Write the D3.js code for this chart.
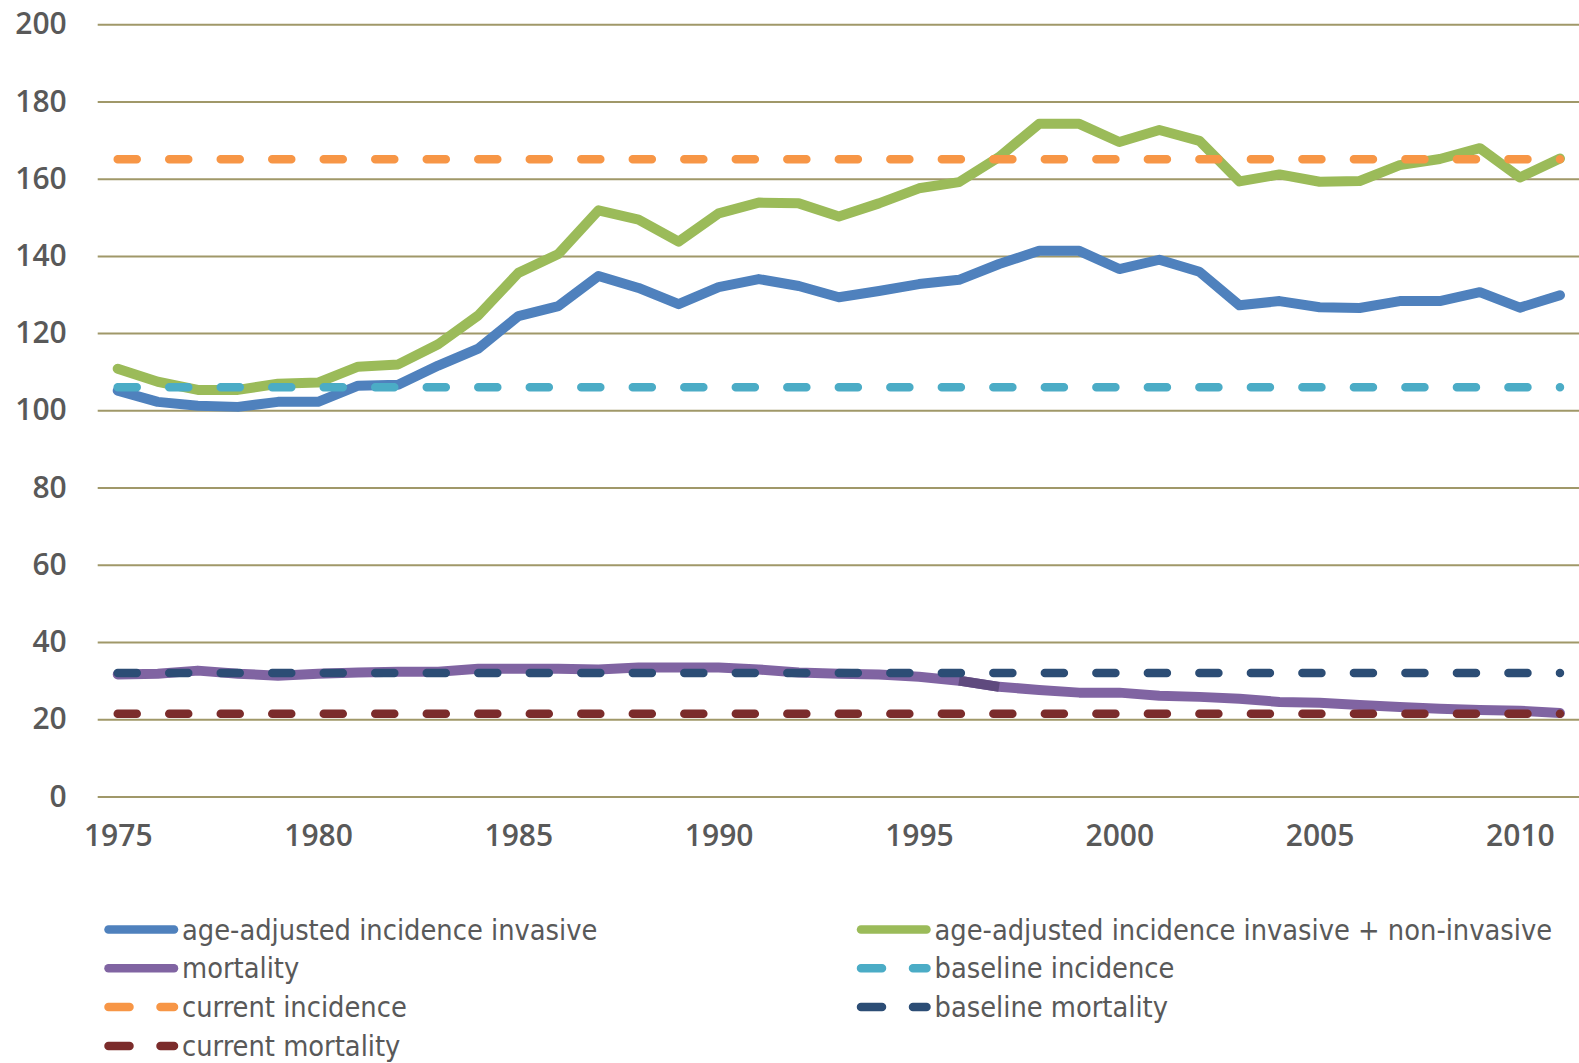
<!DOCTYPE html>
<html>
<head>
<meta charset="utf-8">
<script src="https://cdn.jsdelivr.net/npm/d3@7"></script>
<style>
  html, body { margin: 0; padding: 0; background: #fff; }
  svg { display: block; }
</style>
</head>
<body>
<svg id="chart" width="1579" height="1063"></svg>
<script>
// Breast cancer incidence and mortality, per 100,000, 1975-2011
const years = d3.range(1975, 2012);

const incidenceInvasive = [
  105.1, 102.2, 101.2, 100.9, 102.2, 102.2, 106.4, 106.6, 111.6, 116.0,
  124.4, 127.0, 134.8, 131.7, 127.5, 131.9, 134.0, 132.2, 129.3, 130.9,
  132.7, 133.8, 137.9, 141.3, 141.3, 136.6, 139.0, 135.9, 127.2, 128.3,
  126.7, 126.5, 128.3, 128.3, 130.6, 126.6, 129.8
];

const incidenceAll = [
  110.8, 107.4, 105.3, 105.3, 106.9, 107.2, 111.3, 111.9, 117.1, 124.6,
  135.6, 140.5, 151.8, 149.4, 143.7, 151.0, 153.8, 153.6, 150.2, 153.6,
  157.5, 159.1, 165.6, 174.2, 174.2, 169.5, 172.6, 169.8, 159.3, 161.1,
  159.2, 159.4, 163.5, 165.1, 167.9, 160.3, 165.2
];

const mortality = [
  31.6, 31.8, 32.6, 31.8, 31.3, 31.8, 32.1, 32.3, 32.3, 33.1,
  33.1, 33.1, 32.9, 33.4, 33.4, 33.4, 32.9, 32.1, 31.8, 31.6,
  31.0, 30.0, 28.4, 27.6, 26.9, 26.9, 26.1, 25.8, 25.3, 24.5,
  24.3, 23.7, 23.2, 22.7, 22.4, 22.2, 21.6
];

// Flat reference levels
const baselineIncidence = 106;
const currentIncidence = 165;
const baselineMortality = 32;
const currentMortality = 21.4;

// Mortality segment shown in a darker shade
const mortalityDarkSpan = [1996, 1997];

const yTicks = [0, 20, 40, 60, 80, 100, 120, 140, 160, 180, 200];
const xTickLabels = [1975, 1980, 1985, 1990, 1995, 2000, 2005, 2010];

const series = [
  { name: "age-adjusted incidence invasive", color: "#4f81bd", dashed: false, values: incidenceInvasive },
  { name: "age-adjusted incidence invasive + non-invasive", color: "#9bbb59", dashed: false, values: incidenceAll },
  { name: "mortality", color: "#8064a2", dashed: false, values: mortality },
  { name: "baseline incidence", color: "#4bacc6", dashed: true, values: years.map(() => baselineIncidence) },
  { name: "current incidence", color: "#f79646", dashed: true, values: years.map(() => currentIncidence) },
  { name: "baseline mortality", color: "#2c4d75", dashed: true, values: years.map(() => baselineMortality) },
  { name: "current mortality", color: "#7b2c2b", dashed: true, values: years.map(() => currentMortality) }
];

const legendColumns = [
  ["age-adjusted incidence invasive", "mortality", "current incidence", "current mortality"],
  ["age-adjusted incidence invasive + non-invasive", "baseline incidence", "baseline mortality"]
];

const svg = d3.select("#chart");
const plot = { left: 97.7, right: 1580, top: 24.2, bottom: 796.5 };

const x = d3.scalePoint().domain(years).range([plot.left, plot.right]).padding(0.5);
const y = d3.scaleLinear().domain([0, 200]).range([plot.bottom, plot.top]);

const textColor = "#595959";
const tickFont = "'Open Sans', 'Noto Sans', sans-serif";

// Gridlines
const yAxis = d3.axisLeft(y).tickValues(yTicks).tickSize(-(plot.right - plot.left)).tickFormat(d3.format("d")).tickPadding(31);
const gy = svg.append("g").attr("transform", `translate(${plot.left},0)`).call(yAxis);
gy.select(".domain").remove();
gy.selectAll(".tick line").attr("stroke", "#a09869").attr("stroke-width", 2);
gy.selectAll(".tick text")
  .attr("fill", textColor)
  .style("font-family", tickFont)
  .style("font-size", "30px")
  .style("font-weight", 600);

// Year labels
const xAxis = d3.axisBottom(x).tickValues(xTickLabels).tickSize(0).tickPadding(28);
const gx = svg.append("g").attr("transform", `translate(0,${plot.bottom})`).call(xAxis);
gx.select(".domain").remove();
gx.selectAll(".tick text")
  .attr("fill", textColor)
  .style("font-family", tickFont)
  .style("font-size", "30px")
  .style("font-weight", 600);

// Dash pattern sized so the dashed lines end on a dot at the last year
const span = x(years[years.length - 1]) - x(years[0]);
const period = span / 28;
const dashLen = 19;
const dashArray = `${dashLen},${period - dashLen}`;

const line = d3.line().x((d, i) => x(years[i])).y(d => y(d));

const lines = svg.append("g").attr("fill", "none").attr("stroke-linecap", "round").attr("stroke-linejoin", "round");

series.forEach(s => {
  lines.append("path")
    .datum(s.values)
    .attr("d", line)
    .attr("stroke", s.color)
    .attr("stroke-width", s.dashed ? 8.5 : 10)
    .attr("stroke-dasharray", s.dashed ? dashArray : null);
  if (s.name === "mortality") {
    const i0 = years.indexOf(mortalityDarkSpan[0]);
    const i1 = years.indexOf(mortalityDarkSpan[1]);
    lines.append("path")
      .attr("d", d3.line().x(d => x(d[0])).y(d => y(d[1]))([[years[i0], mortality[i0]], [years[i1], mortality[i1]]]))
      .attr("stroke", "#5f4a7e")
      .attr("stroke-width", 10)
      .attr("stroke-linecap", "butt");
  }
});

// Legend
const legendFont = "'DejaVu Sans Condensed', 'DejaVu Sans', sans-serif";
const legendX = [104.5, 857];
const legendY0 = 929.5;
const legendStep = 38.8;
const sampleLen = 73.5;

legendColumns.forEach((col, ci) => {
  col.forEach((name, ri) => {
    const s = series.find(d => d.name === name);
    const g = svg.append("g").attr("transform", `translate(${legendX[ci]},${legendY0 + ri * legendStep})`);
    g.append("line")
      .attr("x1", 4).attr("x2", sampleLen - 4)
      .attr("stroke", s.color)
      .attr("stroke-width", 8.5)
      .attr("stroke-linecap", "round")
      .attr("stroke-dasharray", s.dashed ? "21,31" : null);
    g.append("text")
      .attr("x", sampleLen + 4)
      .attr("dy", "0.35em")
      .attr("fill", textColor)
      .style("font-family", legendFont)
      .style("font-size", "28.7px")
      .text(name);
  });
});
</script>
</body>
</html>
